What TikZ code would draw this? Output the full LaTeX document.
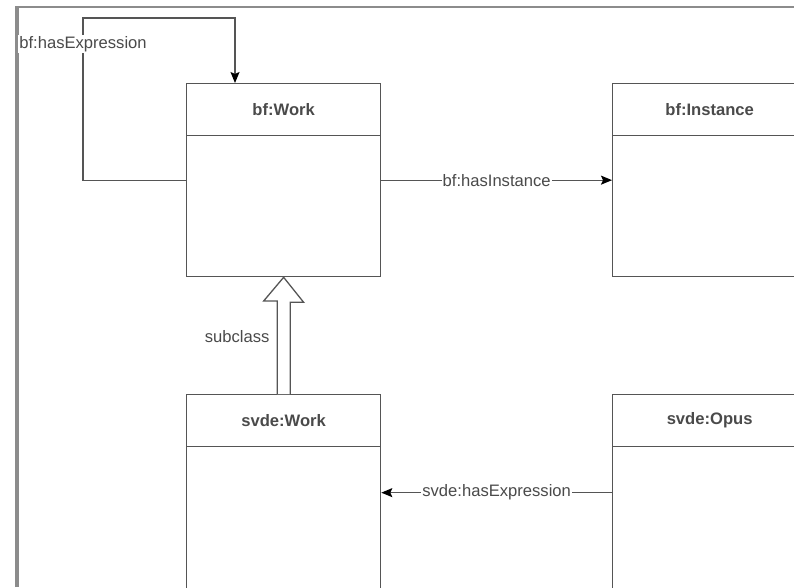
\documentclass[tikz,border=0pt]{standalone}
\usepackage{fontspec}
\setmainfont{Liberation Sans}
\usetikzlibrary{calc, arrows.meta}
\definecolor{edgegray}{HTML}{555555}
\definecolor{textgray}{HTML}{4A4A4A}
\definecolor{framegray}{HTML}{8C8C8C}
\tikzset{
    classbox/.style={draw=edgegray, line width=1.3pt, minimum width=194pt, anchor=north west, inner sep=0pt},
    classhead/.style={draw=edgegray, line width=1.3pt, minimum width=194pt, minimum height=52pt, anchor=north, inner sep=0pt, font=\fontsize{16.6}{19}\selectfont\bfseries, text=textgray},
    assoc/.style={draw=edgegray, line width=1.3pt, -{Stealth[length=11pt, width=9pt, inset=2pt, color=black]}},
    lbl/.style={fill=white, inner sep=1pt, text=textgray, font=\fontsize{16.6}{19}\selectfont}
}
\begin{document}
\begin{tikzpicture}[x=1pt, y=-1pt]
                \useasboundingbox (0,0) rectangle (794,587);
                \clip (0,0) rectangle (794,587);
                \draw[framegray, line width=4.5pt] (17,587) -- (17,7);
                \draw[framegray, line width=2.5pt] (15,7) -- (794,7);
                \foreach \nm/\ttl/\x/\y/\h in {work/bf:Work/186/83/193, inst/bf:Instance/612/83/193, svwork/svde:Work/186/394/196, opus/svde:Opus/612/394/196}{
                    \node[classbox, minimum height=\h pt] (\nm) at (\x,\y) {};
                    \node[classhead] (\nm-t) at (\nm.north) {\ttl};
                }
                \coordinate (loopL) at (83,18);
                \coordinate (loopT) at ([xshift=49pt]work.north west);
                \draw[assoc] (work.west) -| node[lbl, pos=0.92] {bf:hasExpression} (loopL) -| (loopT);
                \draw[assoc] (work.east) -- node[lbl] {bf:hasInstance} (inst.west);
                \draw[assoc] (opus.west) -- node[lbl] {svde:hasExpression} (svwork.east);
                \draw[edgegray, line width=1.3pt, fill=white] ([xshift=-6.5pt]svwork.north) -- node[lbl, fill=none, pos=0.62, left=6pt] {subclass} ++(0,-93) -- ++(-13.5,0) -- (work.south) -- ++(20,25) -- ++(-13.5,0) -- ([xshift=6.5pt]svwork.north);
            \end{tikzpicture}
\end{document}
